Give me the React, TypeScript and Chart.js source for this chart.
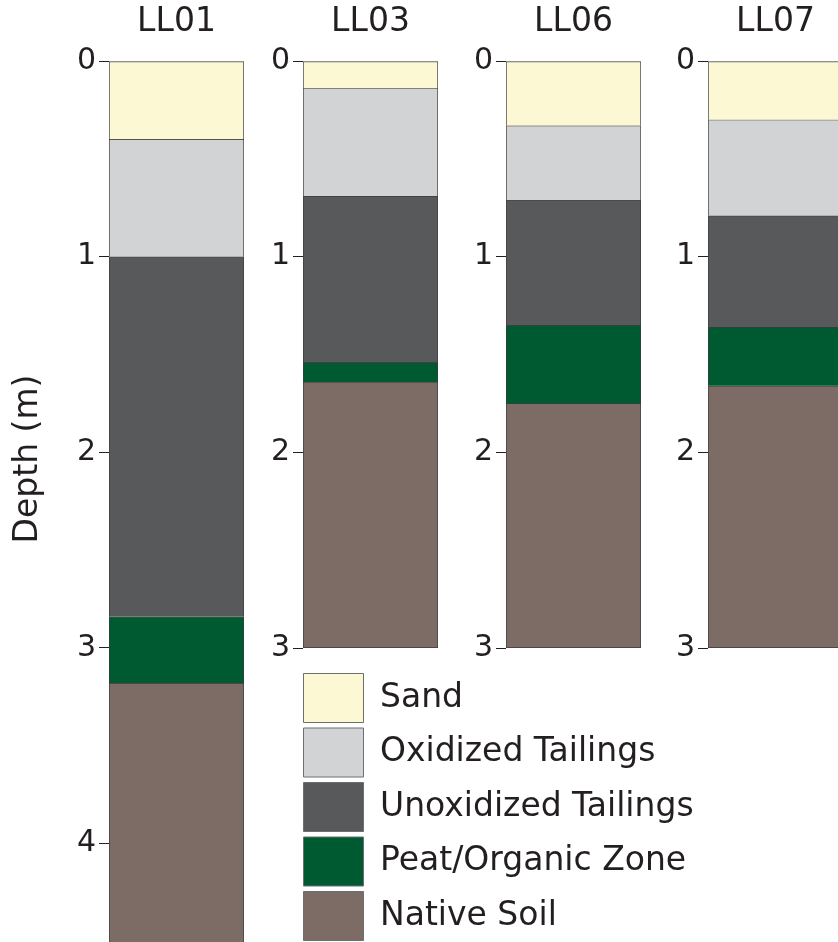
import React, { useEffect, useRef } from 'react';
import { Chart, registerables } from 'chart.js';

Chart.register(...registerables);

// ---------- data ----------
const boreholes = ['LL01', 'LL03', 'LL06', 'LL07'];
const layerNames = ['Sand', 'Oxidized Tailings', 'Unoxidized Tailings', 'Peat/Organic Zone', 'Native Soil'];
const layerColors = ['#FBF8D3', '#D1D3D4', '#58595B', '#005A31', '#7D6B65'];
// bottom depth (m) of each layer for LL01, LL03, LL06, LL07
const sandBottom = [0.4, 0.14, 0.33, 0.3];
const oxidizedBottom = [1.0, 0.69, 0.71, 0.79];
const unoxidizedBottom = [2.84, 1.54, 1.35, 1.36];
const peatBottom = [3.18, 1.64, 1.75, 1.66];
const nativeBottom = [4.55, 3.0, 3.0, 3.0];
const depthTicks = [0, 1, 2, 3, 4];
const yAxisTitle = 'Depth (m)';

// ---------- layout / style ----------
const FONT = "'DejaVu Sans', 'Liberation Sans', sans-serif";
const TEXT = '#231F20';
const EDGE = '#3c3c3c';
const BAR_LEFT = [109, 303, 506, 708];
const BAR_WIDTH = 135;
const AXIS_W = 60;
const AREA_TOP = 61;
const PX_PER_M = 195.67;

const layerBottoms = [sandBottom, oxidizedBottom, unoxidizedBottom, peatBottom, nativeBottom];

function geom(j: number) {
  const maxDepth = nativeBottom[j];
  const left = j === 0 ? 0 : BAR_LEFT[j] - AXIS_W;
  const padLeft = BAR_LEFT[j] - AXIS_W - left;
  const w = BAR_LEFT[j] + BAR_WIDTH - left;
  const areaBottom = AREA_TOP + maxDepth * PX_PER_M;
  const h = Math.ceil(areaBottom) + 20;
  return { maxDepth, left, padLeft, w, h, padBottom: h - areaBottom };
}

const depthLabelPlugin = {
  id: 'depthLabel',
  afterDraw(chart: any) {
    const ctx = chart.ctx;
    ctx.save();
    ctx.font = `33px ${FONT}`;
    ctx.fillStyle = TEXT;
    ctx.textAlign = 'center';
    ctx.textBaseline = 'middle';
    ctx.translate(28, 459);
    ctx.rotate(-Math.PI / 2);
    ctx.fillText(yAxisTitle, 0, 0);
    ctx.restore();
  },
};

export default function App() {
  const refs = useRef<(HTMLCanvasElement | null)[]>([]);
  const legendRef = useRef<HTMLCanvasElement | null>(null);

  useEffect(() => {
    const charts: Chart[] = [];
    boreholes.forEach((name, j) => {
      const canvas = refs.current[j];
      if (!canvas) return;
      const g = geom(j);
      const datasets = layerNames.map((label, i) => {
        const top = i === 0 ? 0 : layerBottoms[i - 1][j];
        const bottom = layerBottoms[i][j];
        return {
          label,
          data: [[top, bottom]],
          backgroundColor: layerColors[i],
          borderColor: EDGE,
          borderWidth: { top: 1, left: 1, right: 1, bottom: i === layerNames.length - 1 ? 1 : 0 },
          borderSkipped: false,
          grouped: false,
          barPercentage: 1,
          categoryPercentage: 1,
        };
      });
      charts.push(
        new Chart(canvas, {
          type: 'bar',
          data: { labels: [name], datasets: datasets as any },
          options: {
            responsive: false,
            animation: false,
            layout: { padding: { left: g.padLeft, right: 0, top: 0, bottom: g.padBottom } },
            plugins: {
              legend: { display: false },
              tooltip: { enabled: false },
              title: {
                display: true,
                text: name,
                fullSize: false,
                color: TEXT,
                font: { family: FONT, size: 33, weight: 'normal' },
                padding: { top: 3, bottom: 18.4 },
              },
            },
            scales: {
              x: { display: false },
              y: {
                reverse: true,
                min: 0,
                max: g.maxDepth,
                afterFit: (s: any) => {
                  s.width = AXIS_W;
                },
                afterBuildTicks: (s: any) => {
                  s.ticks = depthTicks.filter((v) => v <= g.maxDepth).map((v) => ({ value: v }));
                },
                ticks: { font: { family: FONT, size: 30 }, color: TEXT, padding: 3 },
                grid: { drawOnChartArea: false, tickLength: 10, color: TEXT, lineWidth: 1 },
                border: { display: false },
              },
            },
          } as any,
          plugins: j === 0 ? [depthLabelPlugin] : [],
        })
      );
    });

    if (legendRef.current) {
      charts.push(
        new Chart(legendRef.current, {
          type: 'bar',
          data: {
            labels: [],
            datasets: layerNames.map((label, i) => ({
              label,
              data: [],
              backgroundColor: layerColors[i],
              borderColor: '#6d6e71',
              borderWidth: 1,
            })),
          },
          options: {
            responsive: false,
            animation: false,
            layout: { padding: 0 },
            scales: { x: { display: false }, y: { display: false } },
            plugins: {
              tooltip: { enabled: false },
              legend: {
                display: true,
                position: 'top',
                align: 'start',
                labels: {
                  boxWidth: 60,
                  boxHeight: 49,
                  padding: 5.5,
                  color: TEXT,
                  font: { family: FONT, size: 33 },
                },
              },
            },
          } as any,
        })
      );
    }
    return () => charts.forEach((c) => c.destroy());
  }, []);

  return (
    <div
      style={{
        position: 'fixed',
        left: 0,
        top: 0,
        width: 838,
        height: 942,
        overflow: 'hidden',
        background: '#ffffff',
      }}
    >
      {boreholes.map((b, j) => {
        const g = geom(j);
        return (
          <canvas
            key={b}
            ref={(el) => {
              refs.current[j] = el;
            }}
            width={g.w}
            height={g.h}
            style={{ position: 'absolute', left: g.left, top: 0, width: g.w, height: g.h }}
          />
        );
      })}
      <canvas
        ref={legendRef}
        width={480}
        height={600}
        style={{ position: 'absolute', left: 298, top: 668, width: 480, height: 600 }}
      />
    </div>
  );
}
